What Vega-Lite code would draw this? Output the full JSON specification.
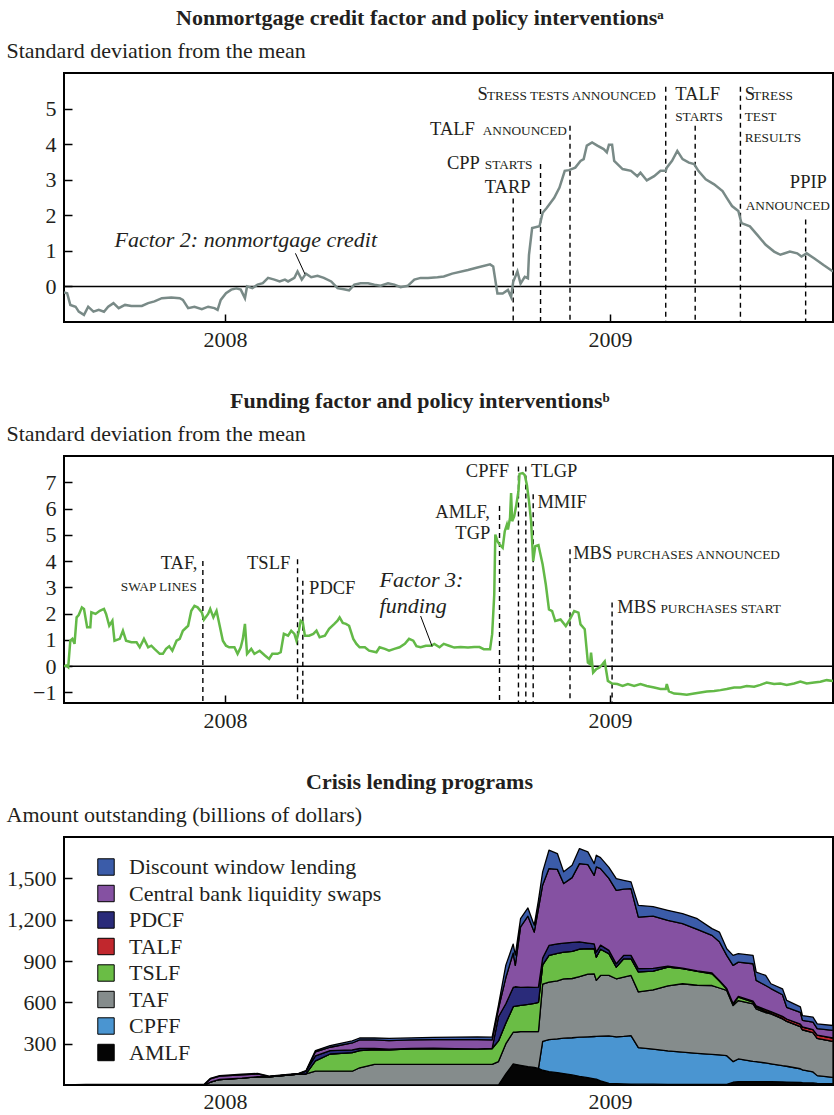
{
  "$schema": "https://vega.github.io/schema/vega-lite/v6.json",
  "background": "white",
  "padding": {"left": 5, "top": 6, "right": 0, "bottom": 0},
  "spacing": 38,
  "resolve": {"legend": {"color": "independent"}},
  "config": {
    "font": "Liberation Serif",
    "view": {"stroke": "black", "strokeWidth": 2},
    "axis": {"grid": false, "domain": false, "labelFont": "Liberation Serif", "labelFontSize": 22, "labelColor": "#231f20", "labelOverlap": false, "tickColor": "black", "tickWidth": 1.5, "tickSize": -8, "titleFont": "Liberation Serif", "titleFontSize": 22, "titleFontWeight": "normal", "titleColor": "#231f20", "zindex": 1},
    "title": {"font": "Liberation Serif", "fontSize": 22, "fontWeight": "bold", "color": "#231f20", "anchor": "middle", "frame": "bounds", "offset": 9},
    "text": {"font": "Liberation Serif", "color": "#231f20"}
  },
  "datasets": {
    "nonmortgage": [
      {"date":"2007-08-01","value":-0.17},{"date":"2007-08-04","value":-0.19},{"date":"2007-08-07","value":-0.52},{"date":"2007-08-12","value":-0.57},{"date":"2007-08-15","value":-0.71},{"date":"2007-08-20","value":-0.8},{"date":"2007-08-24","value":-0.57},{"date":"2007-08-29","value":-0.71},{"date":"2007-09-03","value":-0.66},{"date":"2007-09-08","value":-0.71},{"date":"2007-09-12","value":-0.57},{"date":"2007-09-17","value":-0.47},{"date":"2007-09-22","value":-0.61},{"date":"2007-09-28","value":-0.52},{"date":"2007-10-04","value":-0.55},{"date":"2007-10-14","value":-0.55},{"date":"2007-10-20","value":-0.47},{"date":"2007-10-26","value":-0.42},{"date":"2007-11-02","value":-0.33},{"date":"2007-11-11","value":-0.31},{"date":"2007-11-19","value":-0.33},{"date":"2007-11-22","value":-0.38},{"date":"2007-11-27","value":-0.61},{"date":"2007-12-03","value":-0.57},{"date":"2007-12-10","value":-0.64},{"date":"2007-12-16","value":-0.57},{"date":"2007-12-22","value":-0.61},{"date":"2007-12-25","value":-0.66},{"date":"2007-12-28","value":-0.38},{"date":"2008-01-02","value":-0.19},{"date":"2008-01-07","value":-0.09},{"date":"2008-01-12","value":-0.05},{"date":"2008-01-16","value":-0.09},{"date":"2008-01-20","value":-0.33},{"date":"2008-01-22","value":0},{"date":"2008-01-27","value":-0.05},{"date":"2008-02-01","value":0.05},{"date":"2008-02-06","value":0.09},{"date":"2008-02-11","value":0.24},{"date":"2008-02-17","value":0.19},{"date":"2008-02-22","value":0.14},{"date":"2008-02-27","value":0.19},{"date":"2008-03-01","value":0.14},{"date":"2008-03-07","value":0.24},{"date":"2008-03-10","value":0.42},{"date":"2008-03-14","value":0.19},{"date":"2008-03-18","value":0.36},{"date":"2008-03-23","value":0.26},{"date":"2008-03-29","value":0.3},{"date":"2008-04-04","value":0.24},{"date":"2008-04-11","value":0.14},{"date":"2008-04-17","value":-0.05},{"date":"2008-04-23","value":-0.08},{"date":"2008-04-28","value":-0.11},{"date":"2008-05-03","value":0.05},{"date":"2008-05-09","value":0.09},{"date":"2008-05-16","value":0.09},{"date":"2008-05-22","value":0.05},{"date":"2008-05-28","value":0.02},{"date":"2008-06-04","value":0.09},{"date":"2008-06-10","value":0.05},{"date":"2008-06-16","value":-0.02},{"date":"2008-06-23","value":0.02},{"date":"2008-06-29","value":0.19},{"date":"2008-07-05","value":0.24},{"date":"2008-07-12","value":0.24},{"date":"2008-07-21","value":0.26},{"date":"2008-07-27","value":0.28},{"date":"2008-08-04","value":0.36},{"date":"2008-08-19","value":0.46},{"date":"2008-08-28","value":0.53},{"date":"2008-09-09","value":0.62},{"date":"2008-09-12","value":0.56},{"date":"2008-09-16","value":-0.2},{"date":"2008-09-21","value":-0.2},{"date":"2008-09-26","value":-0.1},{"date":"2008-09-29","value":-0.3},{"date":"2008-10-01","value":0.13},{"date":"2008-10-05","value":0.42},{"date":"2008-10-08","value":0.08},{"date":"2008-10-12","value":0.27},{"date":"2008-10-15","value":0.23},{"date":"2008-10-16","value":0.89},{"date":"2008-10-19","value":1.64},{"date":"2008-10-26","value":1.69},{"date":"2008-10-29","value":2.07},{"date":"2008-11-02","value":2.21},{"date":"2008-11-09","value":2.49},{"date":"2008-11-14","value":2.78},{"date":"2008-11-19","value":3.25},{"date":"2008-11-23","value":3.27},{"date":"2008-11-29","value":3.34},{"date":"2008-12-04","value":3.53},{"date":"2008-12-07","value":3.58},{"date":"2008-12-10","value":3.96},{"date":"2008-12-15","value":4.05},{"date":"2008-12-20","value":3.96},{"date":"2008-12-26","value":3.86},{"date":"2008-12-29","value":3.77},{"date":"2008-12-31","value":3.98},{"date":"2009-01-03","value":3.98},{"date":"2009-01-05","value":3.53},{"date":"2009-01-13","value":3.3},{"date":"2009-01-21","value":3.25},{"date":"2009-01-27","value":3.1},{"date":"2009-01-30","value":3.2},{"date":"2009-02-05","value":2.98},{"date":"2009-02-12","value":3.1},{"date":"2009-02-18","value":3.25},{"date":"2009-02-23","value":3.25},{"date":"2009-02-24","value":3.34},{"date":"2009-03-01","value":3.53},{"date":"2009-03-06","value":3.81},{"date":"2009-03-11","value":3.58},{"date":"2009-03-17","value":3.48},{"date":"2009-03-22","value":3.44},{"date":"2009-03-26","value":3.25},{"date":"2009-04-02","value":3.01},{"date":"2009-04-10","value":2.87},{"date":"2009-04-18","value":2.68},{"date":"2009-04-22","value":2.49},{"date":"2009-04-27","value":2.26},{"date":"2009-05-03","value":2.12},{"date":"2009-05-06","value":1.78},{"date":"2009-05-14","value":1.69},{"date":"2009-05-21","value":1.45},{"date":"2009-05-29","value":1.17},{"date":"2009-06-06","value":0.98},{"date":"2009-06-12","value":0.89},{"date":"2009-06-21","value":0.98},{"date":"2009-06-28","value":0.93},{"date":"2009-07-02","value":0.84},{"date":"2009-07-07","value":0.93},{"date":"2009-07-14","value":0.79},{"date":"2009-07-23","value":0.6},{"date":"2009-08-01","value":0.42}
    ],
    "funding": [
      {"date":"2007-08-01","value":0},{"date":"2007-08-03","value":0.03},{"date":"2007-08-05","value":-0.04},{"date":"2007-08-07","value":0.97},{"date":"2007-08-09","value":1.04},{"date":"2007-08-11","value":0.85},{"date":"2007-08-13","value":1.86},{"date":"2007-08-15","value":1.95},{"date":"2007-08-18","value":2.24},{"date":"2007-08-20","value":2.18},{"date":"2007-08-23","value":1.48},{"date":"2007-08-26","value":1.48},{"date":"2007-08-27","value":2.05},{"date":"2007-08-31","value":1.99},{"date":"2007-09-04","value":2.11},{"date":"2007-09-08","value":2.18},{"date":"2007-09-10","value":1.99},{"date":"2007-09-13","value":1.54},{"date":"2007-09-16","value":1.73},{"date":"2007-09-18","value":0.97},{"date":"2007-09-23","value":1.04},{"date":"2007-09-26","value":1.35},{"date":"2007-09-29","value":0.97},{"date":"2007-10-04","value":0.91},{"date":"2007-10-09","value":0.91},{"date":"2007-10-12","value":0.72},{"date":"2007-10-16","value":1.04},{"date":"2007-10-20","value":0.72},{"date":"2007-10-23","value":0.78},{"date":"2007-10-26","value":0.66},{"date":"2007-10-31","value":0.47},{"date":"2007-11-03","value":0.47},{"date":"2007-11-06","value":0.66},{"date":"2007-11-09","value":0.76},{"date":"2007-11-12","value":0.59},{"date":"2007-11-16","value":0.97},{"date":"2007-11-19","value":1.04},{"date":"2007-11-22","value":1.35},{"date":"2007-11-27","value":1.54},{"date":"2007-11-30","value":2.11},{"date":"2007-12-03","value":2.3},{"date":"2007-12-06","value":2.24},{"date":"2007-12-10","value":2.05},{"date":"2007-12-12","value":1.77},{"date":"2007-12-16","value":1.99},{"date":"2007-12-18","value":2.18},{"date":"2007-12-21","value":1.86},{"date":"2007-12-24","value":2.11},{"date":"2007-12-27","value":1.54},{"date":"2007-12-30","value":0.97},{"date":"2008-01-02","value":0.78},{"date":"2008-01-05","value":0.72},{"date":"2008-01-10","value":0.72},{"date":"2008-01-13","value":0.47},{"date":"2008-01-16","value":0.72},{"date":"2008-01-18","value":1.04},{"date":"2008-01-20","value":1.61},{"date":"2008-01-22","value":0.47},{"date":"2008-01-26","value":0.66},{"date":"2008-01-29","value":0.47},{"date":"2008-02-03","value":0.59},{"date":"2008-02-08","value":0.41},{"date":"2008-02-12","value":0.28},{"date":"2008-02-15","value":0.47},{"date":"2008-02-20","value":0.47},{"date":"2008-02-23","value":0.53},{"date":"2008-02-26","value":1.23},{"date":"2008-03-01","value":1.16},{"date":"2008-03-04","value":1.35},{"date":"2008-03-07","value":1.23},{"date":"2008-03-09","value":0.97},{"date":"2008-03-11","value":1.29},{"date":"2008-03-13","value":1.73},{"date":"2008-03-15","value":1.67},{"date":"2008-03-17","value":1.16},{"date":"2008-03-21","value":1.16},{"date":"2008-03-25","value":1.23},{"date":"2008-03-28","value":1.35},{"date":"2008-03-31","value":1.1},{"date":"2008-04-05","value":1.16},{"date":"2008-04-09","value":1.42},{"date":"2008-04-14","value":1.61},{"date":"2008-04-17","value":1.73},{"date":"2008-04-19","value":1.86},{"date":"2008-04-22","value":1.65},{"date":"2008-04-25","value":1.61},{"date":"2008-04-28","value":1.54},{"date":"2008-05-02","value":1.04},{"date":"2008-05-05","value":0.85},{"date":"2008-05-08","value":0.72},{"date":"2008-05-13","value":0.72},{"date":"2008-05-17","value":0.59},{"date":"2008-05-24","value":0.53},{"date":"2008-05-27","value":0.72},{"date":"2008-06-01","value":0.66},{"date":"2008-06-05","value":0.59},{"date":"2008-06-10","value":0.66},{"date":"2008-06-15","value":0.72},{"date":"2008-06-20","value":0.85},{"date":"2008-06-24","value":1.04},{"date":"2008-06-28","value":0.97},{"date":"2008-07-01","value":0.76},{"date":"2008-07-05","value":0.72},{"date":"2008-07-10","value":0.78},{"date":"2008-07-15","value":0.78},{"date":"2008-07-18","value":0.85},{"date":"2008-07-23","value":0.72},{"date":"2008-07-27","value":0.85},{"date":"2008-08-01","value":0.78},{"date":"2008-08-06","value":0.71},{"date":"2008-08-12","value":0.73},{"date":"2008-08-19","value":0.71},{"date":"2008-08-25","value":0.73},{"date":"2008-08-30","value":0.73},{"date":"2008-09-03","value":0.65},{"date":"2008-09-09","value":0.65},{"date":"2008-09-11","value":1.22},{"date":"2008-09-13","value":2.73},{"date":"2008-09-14","value":5.01},{"date":"2008-09-16","value":4.76},{"date":"2008-09-18","value":4.63},{"date":"2008-09-21","value":4.51},{"date":"2008-09-23","value":5.14},{"date":"2008-09-25","value":5.39},{"date":"2008-09-26","value":5.2},{"date":"2008-09-28","value":5.65},{"date":"2008-09-29","value":6.59},{"date":"2008-09-30","value":5.52},{"date":"2008-10-02","value":5.71},{"date":"2008-10-04","value":6.15},{"date":"2008-10-06","value":6.66},{"date":"2008-10-07","value":7.32},{"date":"2008-10-10","value":7.35},{"date":"2008-10-12","value":7.27},{"date":"2008-10-14","value":6.91},{"date":"2008-10-16","value":6.28},{"date":"2008-10-18","value":5.52},{"date":"2008-10-20","value":4.0},{"date":"2008-10-22","value":4.57},{"date":"2008-10-25","value":4.61},{"date":"2008-10-29","value":3.87},{"date":"2008-11-01","value":3.11},{"date":"2008-11-04","value":2.16},{"date":"2008-11-07","value":2.1},{"date":"2008-11-10","value":1.72},{"date":"2008-11-15","value":1.78},{"date":"2008-11-20","value":1.53},{"date":"2008-11-23","value":1.72},{"date":"2008-11-28","value":2.1},{"date":"2008-12-02","value":2.04},{"date":"2008-12-04","value":1.59},{"date":"2008-12-08","value":1.41},{"date":"2008-12-11","value":0.14},{"date":"2008-12-13","value":0.08},{"date":"2008-12-14","value":0.52},{"date":"2008-12-16","value":-0.24},{"date":"2008-12-19","value":-0.11},{"date":"2008-12-22","value":-0.05},{"date":"2008-12-25","value":0.08},{"date":"2008-12-27","value":0.18},{"date":"2008-12-30","value":-0.56},{"date":"2009-01-03","value":-0.66},{"date":"2009-01-08","value":-0.68},{"date":"2009-01-13","value":-0.75},{"date":"2009-01-18","value":-0.68},{"date":"2009-01-24","value":-0.75},{"date":"2009-01-30","value":-0.68},{"date":"2009-02-05","value":-0.75},{"date":"2009-02-12","value":-0.81},{"date":"2009-02-18","value":-0.87},{"date":"2009-02-23","value":-0.87},{"date":"2009-02-24","value":-0.68},{"date":"2009-02-26","value":-0.96},{"date":"2009-03-03","value":-1.04},{"date":"2009-03-09","value":-1.06},{"date":"2009-03-15","value":-1.09},{"date":"2009-03-22","value":-1.04},{"date":"2009-03-28","value":-1.0},{"date":"2009-04-03","value":-0.96},{"date":"2009-04-10","value":-0.94},{"date":"2009-04-16","value":-0.91},{"date":"2009-04-22","value":-0.87},{"date":"2009-04-29","value":-0.81},{"date":"2009-05-05","value":-0.81},{"date":"2009-05-11","value":-0.75},{"date":"2009-05-18","value":-0.78},{"date":"2009-05-24","value":-0.71},{"date":"2009-05-30","value":-0.62},{"date":"2009-06-06","value":-0.68},{"date":"2009-06-12","value":-0.66},{"date":"2009-06-18","value":-0.71},{"date":"2009-06-25","value":-0.66},{"date":"2009-07-01","value":-0.58},{"date":"2009-07-07","value":-0.66},{"date":"2009-07-14","value":-0.62},{"date":"2009-07-20","value":-0.59},{"date":"2009-07-26","value":-0.53},{"date":"2009-08-01","value":-0.56}
    ],
    "p1_events": [
      {"date":"2008-10-01","top":2.47,"event":"TARP"},{"date":"2008-10-27","top":3.44,"event":"CPP starts"},{"date":"2008-11-24","top":4.52,"event":"TALF announced"},{"date":"2009-02-23","top":5.61,"event":"Stress tests announced"},{"date":"2009-03-23","top":4.52,"event":"TALF starts"},{"date":"2009-05-05","top":5.61,"event":"Stress test results"},{"date":"2009-07-06","top":1.88,"event":"PPIP announced"}
    ],
    "p1_big": [
      {"date":"2008-08-28","value":5.25,"text":"S"},{"date":"2009-03-04","value":5.25,"text":"TALF"},{"date":"2009-05-09","value":5.25,"text":"S"},{"date":"2008-07-14","value":4.26,"text":"TALF"},{"date":"2008-07-30","value":3.29,"text":"CPP"},{"date":"2008-09-04","value":2.63,"text":"TARP"},{"date":"2009-06-21","value":2.78,"text":"PPIP"}
    ],
    "p1_small": [
      {"date":"2008-09-06","value":5.25,"text":"TRESS TESTS ANNOUNCED"},{"date":"2009-03-04","value":4.65,"text":"STARTS"},{"date":"2009-05-17","value":5.25,"text":"TRESS"},{"date":"2009-05-09","value":4.66,"text":"TEST"},{"date":"2009-05-09","value":4.07,"text":"RESULTS"},{"date":"2008-09-02","value":4.26,"text":"ANNOUNCED"},{"date":"2008-09-04","value":3.29,"text":"STARTS"},{"date":"2009-05-10","value":2.16,"text":"ANNOUNCED"}
    ],
    "p1_italic": [{"date":"2007-09-18","value":1.12,"text":"Factor 2: nonmortgage credit"}],
    "p1_leader": [{"date":"2008-03-08","value":0.93,"date2":"2008-03-17","value2":0.35}],
    "p2_events": [
      {"date":"2007-12-11","top":4.0,"event":"TAF, swap lines"},{"date":"2008-03-10","top":4.07,"event":"TSLF"},{"date":"2008-03-15","top":3.25,"event":"PDCF"},{"date":"2008-09-18","top":6.1,"event":"AMLF, TGP"},{"date":"2008-10-06","top":7.6,"event":"CPFF"},{"date":"2008-10-13","top":7.6,"event":"TLGP"},{"date":"2008-10-20","top":6.54,"event":"MMIF"},{"date":"2008-11-24","top":4.45,"event":"MBS purchases announced"},{"date":"2009-01-03","top":2.42,"event":"MBS purchases start"}
    ],
    "p2_big": [
      {"date":"2007-11-01","value":3.71,"text":"TAF,"},{"date":"2008-01-22","value":3.71,"text":"TSLF"},{"date":"2008-03-21","value":2.74,"text":"PDCF"},{"date":"2008-07-19","value":5.65,"text":"AMLF,"},{"date":"2008-08-07","value":4.86,"text":"TGP"},{"date":"2008-08-17","value":7.2,"text":"CPFF"},{"date":"2008-10-18","value":7.2,"text":"TLGP"},{"date":"2008-10-24","value":6.03,"text":"MMIF"},{"date":"2008-11-27","value":4.07,"text":"MBS"},{"date":"2009-01-08","value":2.04,"text":"MBS"}
    ],
    "p2_small": [
      {"date":"2007-09-24","value":2.86,"text":"SWAP LINES"},{"date":"2009-01-07","value":4.07,"text":"PURCHASES ANNOUNCED"},{"date":"2009-02-18","value":2.04,"text":"PURCHASES START"}
    ],
    "p2_italic": [{"date":"2008-05-27","value":3.03,"text":"Factor 3:"},{"date":"2008-05-27","value":2.04,"text":"funding"}],
    "p2_leader": [{"date":"2008-07-05","value":1.91,"date2":"2008-07-16","value2":0.75}],
    "programs": [
      {"program":"AMLF","rank":1},{"program":"CPFF","rank":2},{"program":"TAF","rank":3},{"program":"TSLF","rank":4},{"program":"TALF","rank":5},{"program":"PDCF","rank":6},{"program":"Central bank liquidity swaps","rank":7},{"program":"Discount window lending","rank":8}
    ],
    "lending": [
      {"date":"2007-08-01","program":"AMLF","amount":0},{"date":"2007-08-01","program":"CPFF","amount":0},{"date":"2007-08-01","program":"TAF","amount":0},{"date":"2007-08-01","program":"TSLF","amount":0},{"date":"2007-08-01","program":"TALF","amount":0},{"date":"2007-08-01","program":"PDCF","amount":0},{"date":"2007-08-01","program":"Central bank liquidity swaps","amount":0},{"date":"2007-08-01","program":"Discount window lending","amount":1},
      {"date":"2007-08-22","program":"AMLF","amount":0},{"date":"2007-08-22","program":"CPFF","amount":0},{"date":"2007-08-22","program":"TAF","amount":0},{"date":"2007-08-22","program":"TSLF","amount":0},{"date":"2007-08-22","program":"TALF","amount":0},{"date":"2007-08-22","program":"PDCF","amount":0},{"date":"2007-08-22","program":"Central bank liquidity swaps","amount":0},{"date":"2007-08-22","program":"Discount window lending","amount":4},
      {"date":"2007-12-12","program":"AMLF","amount":0},{"date":"2007-12-12","program":"CPFF","amount":0},{"date":"2007-12-12","program":"TAF","amount":0},{"date":"2007-12-12","program":"TSLF","amount":0},{"date":"2007-12-12","program":"TALF","amount":0},{"date":"2007-12-12","program":"PDCF","amount":0},{"date":"2007-12-12","program":"Central bank liquidity swaps","amount":0},{"date":"2007-12-12","program":"Discount window lending","amount":4},
      {"date":"2007-12-18","program":"AMLF","amount":0},{"date":"2007-12-18","program":"CPFF","amount":0},{"date":"2007-12-18","program":"TAF","amount":20},{"date":"2007-12-18","program":"TSLF","amount":0},{"date":"2007-12-18","program":"TALF","amount":0},{"date":"2007-12-18","program":"PDCF","amount":0},{"date":"2007-12-18","program":"Central bank liquidity swaps","amount":24},{"date":"2007-12-18","program":"Discount window lending","amount":4},
      {"date":"2007-12-27","program":"AMLF","amount":0},{"date":"2007-12-27","program":"CPFF","amount":0},{"date":"2007-12-27","program":"TAF","amount":40},{"date":"2007-12-27","program":"TSLF","amount":0},{"date":"2007-12-27","program":"TALF","amount":0},{"date":"2007-12-27","program":"PDCF","amount":0},{"date":"2007-12-27","program":"Central bank liquidity swaps","amount":24},{"date":"2007-12-27","program":"Discount window lending","amount":4},
      {"date":"2008-01-17","program":"AMLF","amount":0},{"date":"2008-01-17","program":"CPFF","amount":0},{"date":"2008-01-17","program":"TAF","amount":50},{"date":"2008-01-17","program":"TSLF","amount":0},{"date":"2008-01-17","program":"TALF","amount":0},{"date":"2008-01-17","program":"PDCF","amount":0},{"date":"2008-01-17","program":"Central bank liquidity swaps","amount":24},{"date":"2008-01-17","program":"Discount window lending","amount":4},
      {"date":"2008-02-01","program":"AMLF","amount":0},{"date":"2008-02-01","program":"CPFF","amount":0},{"date":"2008-02-01","program":"TAF","amount":60},{"date":"2008-02-01","program":"TSLF","amount":0},{"date":"2008-02-01","program":"TALF","amount":0},{"date":"2008-02-01","program":"PDCF","amount":0},{"date":"2008-02-01","program":"Central bank liquidity swaps","amount":20},{"date":"2008-02-01","program":"Discount window lending","amount":4},
      {"date":"2008-02-12","program":"AMLF","amount":0},{"date":"2008-02-12","program":"CPFF","amount":0},{"date":"2008-02-12","program":"TAF","amount":60},{"date":"2008-02-12","program":"TSLF","amount":0},{"date":"2008-02-12","program":"TALF","amount":0},{"date":"2008-02-12","program":"PDCF","amount":0},{"date":"2008-02-12","program":"Central bank liquidity swaps","amount":0},{"date":"2008-02-12","program":"Discount window lending","amount":4},
      {"date":"2008-03-11","program":"AMLF","amount":0},{"date":"2008-03-11","program":"CPFF","amount":0},{"date":"2008-03-11","program":"TAF","amount":80},{"date":"2008-03-11","program":"TSLF","amount":0},{"date":"2008-03-11","program":"TALF","amount":0},{"date":"2008-03-11","program":"PDCF","amount":0},{"date":"2008-03-11","program":"Central bank liquidity swaps","amount":0},{"date":"2008-03-11","program":"Discount window lending","amount":4},
      {"date":"2008-03-18","program":"AMLF","amount":0},{"date":"2008-03-18","program":"CPFF","amount":0},{"date":"2008-03-18","program":"TAF","amount":80},{"date":"2008-03-18","program":"TSLF","amount":0},{"date":"2008-03-18","program":"TALF","amount":0},{"date":"2008-03-18","program":"PDCF","amount":20},{"date":"2008-03-18","program":"Central bank liquidity swaps","amount":0},{"date":"2008-03-18","program":"Discount window lending","amount":4},
      {"date":"2008-03-27","program":"AMLF","amount":0},{"date":"2008-03-27","program":"CPFF","amount":0},{"date":"2008-03-27","program":"TAF","amount":100},{"date":"2008-03-27","program":"TSLF","amount":75},{"date":"2008-03-27","program":"TALF","amount":0},{"date":"2008-03-27","program":"PDCF","amount":37},{"date":"2008-03-27","program":"Central bank liquidity swaps","amount":29},{"date":"2008-03-27","program":"Discount window lending","amount":9},
      {"date":"2008-04-10","program":"AMLF","amount":0},{"date":"2008-04-10","program":"CPFF","amount":0},{"date":"2008-04-10","program":"TAF","amount":100},{"date":"2008-04-10","program":"TSLF","amount":125},{"date":"2008-04-10","program":"TALF","amount":0},{"date":"2008-04-10","program":"PDCF","amount":25},{"date":"2008-04-10","program":"Central bank liquidity swaps","amount":24},{"date":"2008-04-10","program":"Discount window lending","amount":12},
      {"date":"2008-05-01","program":"AMLF","amount":0},{"date":"2008-05-01","program":"CPFF","amount":0},{"date":"2008-05-01","program":"TAF","amount":100},{"date":"2008-05-01","program":"TSLF","amount":135},{"date":"2008-05-01","program":"TALF","amount":0},{"date":"2008-05-01","program":"PDCF","amount":20},{"date":"2008-05-01","program":"Central bank liquidity swaps","amount":50},{"date":"2008-05-01","program":"Discount window lending","amount":15},
      {"date":"2008-05-08","program":"AMLF","amount":0},{"date":"2008-05-08","program":"CPFF","amount":0},{"date":"2008-05-08","program":"TAF","amount":125},{"date":"2008-05-08","program":"TSLF","amount":125},{"date":"2008-05-08","program":"TALF","amount":0},{"date":"2008-05-08","program":"PDCF","amount":15},{"date":"2008-05-08","program":"Central bank liquidity swaps","amount":62},{"date":"2008-05-08","program":"Discount window lending","amount":14},
      {"date":"2008-05-22","program":"AMLF","amount":0},{"date":"2008-05-22","program":"CPFF","amount":0},{"date":"2008-05-22","program":"TAF","amount":150},{"date":"2008-05-22","program":"TSLF","amount":107},{"date":"2008-05-22","program":"TALF","amount":0},{"date":"2008-05-22","program":"PDCF","amount":8},{"date":"2008-05-22","program":"Central bank liquidity swaps","amount":62},{"date":"2008-05-22","program":"Discount window lending","amount":14},
      {"date":"2008-06-05","program":"AMLF","amount":0},{"date":"2008-06-05","program":"CPFF","amount":0},{"date":"2008-06-05","program":"TAF","amount":150},{"date":"2008-06-05","program":"TSLF","amount":105},{"date":"2008-06-05","program":"TALF","amount":0},{"date":"2008-06-05","program":"PDCF","amount":5},{"date":"2008-06-05","program":"Central bank liquidity swaps","amount":62},{"date":"2008-06-05","program":"Discount window lending","amount":16},
      {"date":"2008-06-26","program":"AMLF","amount":0},{"date":"2008-06-26","program":"CPFF","amount":0},{"date":"2008-06-26","program":"TAF","amount":150},{"date":"2008-06-26","program":"TSLF","amount":112},{"date":"2008-06-26","program":"TALF","amount":0},{"date":"2008-06-26","program":"PDCF","amount":3},{"date":"2008-06-26","program":"Central bank liquidity swaps","amount":62},{"date":"2008-06-26","program":"Discount window lending","amount":15},
      {"date":"2008-07-17","program":"AMLF","amount":0},{"date":"2008-07-17","program":"CPFF","amount":0},{"date":"2008-07-17","program":"TAF","amount":150},{"date":"2008-07-17","program":"TSLF","amount":115},{"date":"2008-07-17","program":"TALF","amount":0},{"date":"2008-07-17","program":"PDCF","amount":2},{"date":"2008-07-17","program":"Central bank liquidity swaps","amount":62},{"date":"2008-07-17","program":"Discount window lending","amount":17},
      {"date":"2008-08-07","program":"AMLF","amount":0},{"date":"2008-08-07","program":"CPFF","amount":0},{"date":"2008-08-07","program":"TAF","amount":150},{"date":"2008-08-07","program":"TSLF","amount":112},{"date":"2008-08-07","program":"TALF","amount":0},{"date":"2008-08-07","program":"PDCF","amount":1},{"date":"2008-08-07","program":"Central bank liquidity swaps","amount":67},{"date":"2008-08-07","program":"Discount window lending","amount":18},
      {"date":"2008-08-28","program":"AMLF","amount":0},{"date":"2008-08-28","program":"CPFF","amount":0},{"date":"2008-08-28","program":"TAF","amount":150},{"date":"2008-08-28","program":"TSLF","amount":112},{"date":"2008-08-28","program":"TALF","amount":0},{"date":"2008-08-28","program":"PDCF","amount":0},{"date":"2008-08-28","program":"Central bank liquidity swaps","amount":67},{"date":"2008-08-28","program":"Discount window lending","amount":20},
      {"date":"2008-09-11","program":"AMLF","amount":0},{"date":"2008-09-11","program":"CPFF","amount":0},{"date":"2008-09-11","program":"TAF","amount":150},{"date":"2008-09-11","program":"TSLF","amount":115},{"date":"2008-09-11","program":"TALF","amount":0},{"date":"2008-09-11","program":"PDCF","amount":0},{"date":"2008-09-11","program":"Central bank liquidity swaps","amount":62},{"date":"2008-09-11","program":"Discount window lending","amount":20},
      {"date":"2008-09-17","program":"AMLF","amount":0},{"date":"2008-09-17","program":"CPFF","amount":0},{"date":"2008-09-17","program":"TAF","amount":170},{"date":"2008-09-17","program":"TSLF","amount":150},{"date":"2008-09-17","program":"TALF","amount":0},{"date":"2008-09-17","program":"PDCF","amount":175},{"date":"2008-09-17","program":"Central bank liquidity swaps","amount":60},{"date":"2008-09-17","program":"Discount window lending","amount":25},
      {"date":"2008-09-24","program":"AMLF","amount":80},{"date":"2008-09-24","program":"CPFF","amount":0},{"date":"2008-09-24","program":"TAF","amount":220},{"date":"2008-09-24","program":"TSLF","amount":150},{"date":"2008-09-24","program":"TALF","amount":0},{"date":"2008-09-24","program":"PDCF","amount":140},{"date":"2008-09-24","program":"Central bank liquidity swaps","amount":190},{"date":"2008-09-24","program":"Discount window lending","amount":90},
      {"date":"2008-10-01","program":"AMLF","amount":153},{"date":"2008-10-01","program":"CPFF","amount":0},{"date":"2008-10-01","program":"TAF","amount":230},{"date":"2008-10-01","program":"TSLF","amount":185},{"date":"2008-10-01","program":"TALF","amount":0},{"date":"2008-10-01","program":"PDCF","amount":140},{"date":"2008-10-01","program":"Central bank liquidity swaps","amount":250},{"date":"2008-10-01","program":"Discount window lending","amount":65},
      {"date":"2008-10-03","program":"AMLF","amount":150},{"date":"2008-10-03","program":"CPFF","amount":0},{"date":"2008-10-03","program":"TAF","amount":233},{"date":"2008-10-03","program":"TSLF","amount":190},{"date":"2008-10-03","program":"TALF","amount":0},{"date":"2008-10-03","program":"PDCF","amount":140},{"date":"2008-10-03","program":"Central bank liquidity swaps","amount":155},{"date":"2008-10-03","program":"Discount window lending","amount":75},
      {"date":"2008-10-08","program":"AMLF","amount":143},{"date":"2008-10-08","program":"CPFF","amount":0},{"date":"2008-10-08","program":"TAF","amount":245},{"date":"2008-10-08","program":"TSLF","amount":190},{"date":"2008-10-08","program":"TALF","amount":0},{"date":"2008-10-08","program":"PDCF","amount":130},{"date":"2008-10-08","program":"Central bank liquidity swaps","amount":440},{"date":"2008-10-08","program":"Discount window lending","amount":60},
      {"date":"2008-10-15","program":"AMLF","amount":133},{"date":"2008-10-15","program":"CPFF","amount":0},{"date":"2008-10-15","program":"TAF","amount":255},{"date":"2008-10-15","program":"TSLF","amount":197},{"date":"2008-10-15","program":"TALF","amount":0},{"date":"2008-10-15","program":"PDCF","amount":125},{"date":"2008-10-15","program":"Central bank liquidity swaps","amount":515},{"date":"2008-10-15","program":"Discount window lending","amount":60},
      {"date":"2008-10-21","program":"AMLF","amount":127},{"date":"2008-10-21","program":"CPFF","amount":0},{"date":"2008-10-21","program":"TAF","amount":261},{"date":"2008-10-21","program":"TSLF","amount":205},{"date":"2008-10-21","program":"TALF","amount":0},{"date":"2008-10-21","program":"PDCF","amount":115},{"date":"2008-10-21","program":"Central bank liquidity swaps","amount":402},{"date":"2008-10-21","program":"Discount window lending","amount":50},
      {"date":"2008-10-25","program":"AMLF","amount":120},{"date":"2008-10-25","program":"CPFF","amount":0},{"date":"2008-10-25","program":"TAF","amount":268},{"date":"2008-10-25","program":"TSLF","amount":212},{"date":"2008-10-25","program":"TALF","amount":0},{"date":"2008-10-25","program":"PDCF","amount":110},{"date":"2008-10-25","program":"Central bank liquidity swaps","amount":570},{"date":"2008-10-25","program":"Discount window lending","amount":60},
      {"date":"2008-10-29","program":"AMLF","amount":107},{"date":"2008-10-29","program":"CPFF","amount":210},{"date":"2008-10-29","program":"TAF","amount":415},{"date":"2008-10-29","program":"TSLF","amount":140},{"date":"2008-10-29","program":"TALF","amount":0},{"date":"2008-10-29","program":"PDCF","amount":50},{"date":"2008-10-29","program":"Central bank liquidity swaps","amount":530},{"date":"2008-10-29","program":"Discount window lending","amount":95},
      {"date":"2008-11-04","program":"AMLF","amount":97},{"date":"2008-11-04","program":"CPFF","amount":233},{"date":"2008-11-04","program":"TAF","amount":417},{"date":"2008-11-04","program":"TSLF","amount":194},{"date":"2008-11-04","program":"TALF","amount":0},{"date":"2008-11-04","program":"PDCF","amount":72},{"date":"2008-11-04","program":"Central bank liquidity swaps","amount":558},{"date":"2008-11-04","program":"Discount window lending","amount":133},
      {"date":"2008-11-12","program":"AMLF","amount":90},{"date":"2008-11-12","program":"CPFF","amount":245},{"date":"2008-11-12","program":"TAF","amount":420},{"date":"2008-11-12","program":"TSLF","amount":200},{"date":"2008-11-12","program":"TALF","amount":0},{"date":"2008-11-12","program":"PDCF","amount":70},{"date":"2008-11-12","program":"Central bank liquidity swaps","amount":540},{"date":"2008-11-12","program":"Discount window lending","amount":115},
      {"date":"2008-11-18","program":"AMLF","amount":83},{"date":"2008-11-18","program":"CPFF","amount":257},{"date":"2008-11-18","program":"TAF","amount":430},{"date":"2008-11-18","program":"TSLF","amount":195},{"date":"2008-11-18","program":"TALF","amount":0},{"date":"2008-11-18","program":"PDCF","amount":65},{"date":"2008-11-18","program":"Central bank liquidity swaps","amount":432},{"date":"2008-11-18","program":"Discount window lending","amount":85},
      {"date":"2008-11-26","program":"AMLF","amount":73},{"date":"2008-11-26","program":"CPFF","amount":270},{"date":"2008-11-26","program":"TAF","amount":430},{"date":"2008-11-26","program":"TSLF","amount":197},{"date":"2008-11-26","program":"TALF","amount":0},{"date":"2008-11-26","program":"PDCF","amount":65},{"date":"2008-11-26","program":"Central bank liquidity swaps","amount":470},{"date":"2008-11-26","program":"Discount window lending","amount":90},
      {"date":"2008-12-03","program":"AMLF","amount":63},{"date":"2008-12-03","program":"CPFF","amount":284},{"date":"2008-12-03","program":"TAF","amount":440},{"date":"2008-12-03","program":"TSLF","amount":200},{"date":"2008-12-03","program":"TALF","amount":0},{"date":"2008-12-03","program":"PDCF","amount":52},{"date":"2008-12-03","program":"Central bank liquidity swaps","amount":568},{"date":"2008-12-03","program":"Discount window lending","amount":109},
      {"date":"2008-12-11","program":"AMLF","amount":53},{"date":"2008-12-11","program":"CPFF","amount":297},{"date":"2008-12-11","program":"TAF","amount":455},{"date":"2008-12-11","program":"TSLF","amount":185},{"date":"2008-12-11","program":"TALF","amount":0},{"date":"2008-12-11","program":"PDCF","amount":40},{"date":"2008-12-11","program":"Central bank liquidity swaps","amount":570},{"date":"2008-12-11","program":"Discount window lending","amount":92},
      {"date":"2008-12-17","program":"AMLF","amount":45},{"date":"2008-12-17","program":"CPFF","amount":307},{"date":"2008-12-17","program":"TAF","amount":455},{"date":"2008-12-17","program":"TSLF","amount":182},{"date":"2008-12-17","program":"TALF","amount":0},{"date":"2008-12-17","program":"PDCF","amount":35},{"date":"2008-12-17","program":"Central bank liquidity swaps","amount":498},{"date":"2008-12-17","program":"Discount window lending","amount":85},
      {"date":"2008-12-19","program":"AMLF","amount":42},{"date":"2008-12-19","program":"CPFF","amount":311},{"date":"2008-12-19","program":"TAF","amount":406},{"date":"2008-12-19","program":"TSLF","amount":169},{"date":"2008-12-19","program":"TALF","amount":0},{"date":"2008-12-19","program":"PDCF","amount":37},{"date":"2008-12-19","program":"Central bank liquidity swaps","amount":618},{"date":"2008-12-19","program":"Discount window lending","amount":85},
      {"date":"2008-12-23","program":"AMLF","amount":30},{"date":"2008-12-23","program":"CPFF","amount":325},{"date":"2008-12-23","program":"TAF","amount":440},{"date":"2008-12-23","program":"TSLF","amount":190},{"date":"2008-12-23","program":"TALF","amount":0},{"date":"2008-12-23","program":"PDCF","amount":30},{"date":"2008-12-23","program":"Central bank liquidity swaps","amount":555},{"date":"2008-12-23","program":"Discount window lending","amount":80},
      {"date":"2008-12-31","program":"AMLF","amount":12},{"date":"2008-12-31","program":"CPFF","amount":345},{"date":"2008-12-31","program":"TAF","amount":438},{"date":"2008-12-31","program":"TSLF","amount":158},{"date":"2008-12-31","program":"TALF","amount":0},{"date":"2008-12-31","program":"PDCF","amount":24},{"date":"2008-12-31","program":"Central bank liquidity swaps","amount":523},{"date":"2008-12-31","program":"Discount window lending","amount":80},
      {"date":"2009-01-07","program":"AMLF","amount":10},{"date":"2009-01-07","program":"CPFF","amount":340},{"date":"2009-01-07","program":"TAF","amount":421},{"date":"2009-01-07","program":"TSLF","amount":85},{"date":"2009-01-07","program":"TALF","amount":0},{"date":"2009-01-07","program":"PDCF","amount":24},{"date":"2009-01-07","program":"Central bank liquidity swaps","amount":533},{"date":"2009-01-07","program":"Discount window lending","amount":85},
      {"date":"2009-01-14","program":"AMLF","amount":8},{"date":"2009-01-14","program":"CPFF","amount":345},{"date":"2009-01-14","program":"TAF","amount":430},{"date":"2009-01-14","program":"TSLF","amount":133},{"date":"2009-01-14","program":"TALF","amount":0},{"date":"2009-01-14","program":"PDCF","amount":25},{"date":"2009-01-14","program":"Central bank liquidity swaps","amount":480},{"date":"2009-01-14","program":"Discount window lending","amount":65},
      {"date":"2009-01-21","program":"AMLF","amount":7},{"date":"2009-01-21","program":"CPFF","amount":352},{"date":"2009-01-21","program":"TAF","amount":436},{"date":"2009-01-21","program":"TSLF","amount":121},{"date":"2009-01-21","program":"TALF","amount":0},{"date":"2009-01-21","program":"PDCF","amount":25},{"date":"2009-01-21","program":"Central bank liquidity swaps","amount":484},{"date":"2009-01-21","program":"Discount window lending","amount":49},
      {"date":"2009-01-28","program":"AMLF","amount":6},{"date":"2009-01-28","program":"CPFF","amount":265},{"date":"2009-01-28","program":"TAF","amount":405},{"date":"2009-01-28","program":"TSLF","amount":145},{"date":"2009-01-28","program":"TALF","amount":0},{"date":"2009-01-28","program":"PDCF","amount":23},{"date":"2009-01-28","program":"Central bank liquidity swaps","amount":375},{"date":"2009-01-28","program":"Discount window lending","amount":85},
      {"date":"2009-02-11","program":"AMLF","amount":6},{"date":"2009-02-11","program":"CPFF","amount":255},{"date":"2009-02-11","program":"TAF","amount":430},{"date":"2009-02-11","program":"TSLF","amount":135},{"date":"2009-02-11","program":"TALF","amount":0},{"date":"2009-02-11","program":"PDCF","amount":20},{"date":"2009-02-11","program":"Central bank liquidity swaps","amount":380},{"date":"2009-02-11","program":"Discount window lending","amount":68},
      {"date":"2009-02-25","program":"AMLF","amount":5},{"date":"2009-02-25","program":"CPFF","amount":243},{"date":"2009-02-25","program":"TAF","amount":472},{"date":"2009-02-25","program":"TSLF","amount":135},{"date":"2009-02-25","program":"TALF","amount":0},{"date":"2009-02-25","program":"PDCF","amount":8},{"date":"2009-02-25","program":"Central bank liquidity swaps","amount":332},{"date":"2009-02-25","program":"Discount window lending","amount":73},
      {"date":"2009-03-11","program":"AMLF","amount":5},{"date":"2009-03-11","program":"CPFF","amount":233},{"date":"2009-03-11","program":"TAF","amount":497},{"date":"2009-03-11","program":"TSLF","amount":109},{"date":"2009-03-11","program":"TALF","amount":0},{"date":"2009-03-11","program":"PDCF","amount":4},{"date":"2009-03-11","program":"Central bank liquidity swaps","amount":323},{"date":"2009-03-11","program":"Discount window lending","amount":73},
      {"date":"2009-03-25","program":"AMLF","amount":5},{"date":"2009-03-25","program":"CPFF","amount":225},{"date":"2009-03-25","program":"TAF","amount":494},{"date":"2009-03-25","program":"TSLF","amount":100},{"date":"2009-03-25","program":"TALF","amount":2},{"date":"2009-03-25","program":"PDCF","amount":2},{"date":"2009-03-25","program":"Central bank liquidity swaps","amount":302},{"date":"2009-03-25","program":"Discount window lending","amount":77},
      {"date":"2009-04-08","program":"AMLF","amount":5},{"date":"2009-04-08","program":"CPFF","amount":217},{"date":"2009-04-08","program":"TAF","amount":500},{"date":"2009-04-08","program":"TSLF","amount":85},{"date":"2009-04-08","program":"TALF","amount":4},{"date":"2009-04-08","program":"PDCF","amount":2},{"date":"2009-04-08","program":"Central bank liquidity swaps","amount":273},{"date":"2009-04-08","program":"Discount window lending","amount":49},
      {"date":"2009-04-15","program":"AMLF","amount":5},{"date":"2009-04-15","program":"CPFF","amount":214},{"date":"2009-04-15","program":"TAF","amount":485},{"date":"2009-04-15","program":"TSLF","amount":50},{"date":"2009-04-15","program":"TALF","amount":5},{"date":"2009-04-15","program":"PDCF","amount":0},{"date":"2009-04-15","program":"Central bank liquidity swaps","amount":281},{"date":"2009-04-15","program":"Discount window lending","amount":70},
      {"date":"2009-04-22","program":"AMLF","amount":5},{"date":"2009-04-22","program":"CPFF","amount":208},{"date":"2009-04-22","program":"TAF","amount":473},{"date":"2009-04-22","program":"TSLF","amount":10},{"date":"2009-04-22","program":"TALF","amount":5},{"date":"2009-04-22","program":"PDCF","amount":0},{"date":"2009-04-22","program":"Central bank liquidity swaps","amount":240},{"date":"2009-04-22","program":"Discount window lending","amount":48},
      {"date":"2009-04-28","program":"AMLF","amount":20},{"date":"2009-04-28","program":"CPFF","amount":150},{"date":"2009-04-28","program":"TAF","amount":407},{"date":"2009-04-28","program":"TSLF","amount":10},{"date":"2009-04-28","program":"TALF","amount":5},{"date":"2009-04-28","program":"PDCF","amount":0},{"date":"2009-04-28","program":"Central bank liquidity swaps","amount":276},{"date":"2009-04-28","program":"Discount window lending","amount":73},
      {"date":"2009-05-03","program":"AMLF","amount":24},{"date":"2009-05-03","program":"CPFF","amount":165},{"date":"2009-05-03","program":"TAF","amount":424},{"date":"2009-05-03","program":"TSLF","amount":25},{"date":"2009-05-03","program":"TALF","amount":5},{"date":"2009-05-03","program":"PDCF","amount":0},{"date":"2009-05-03","program":"Central bank liquidity swaps","amount":249},{"date":"2009-05-03","program":"Discount window lending","amount":61},
      {"date":"2009-05-17","program":"AMLF","amount":24},{"date":"2009-05-17","program":"CPFF","amount":148},{"date":"2009-05-17","program":"TAF","amount":417},{"date":"2009-05-17","program":"TSLF","amount":12},{"date":"2009-05-17","program":"TALF","amount":7},{"date":"2009-05-17","program":"PDCF","amount":0},{"date":"2009-05-17","program":"Central bank liquidity swaps","amount":272},{"date":"2009-05-17","program":"Discount window lending","amount":61},
      {"date":"2009-05-20","program":"AMLF","amount":24},{"date":"2009-05-20","program":"CPFF","amount":145},{"date":"2009-05-20","program":"TAF","amount":384},{"date":"2009-05-20","program":"TSLF","amount":12},{"date":"2009-05-20","program":"TALF","amount":10},{"date":"2009-05-20","program":"PDCF","amount":0},{"date":"2009-05-20","program":"Central bank liquidity swaps","amount":184},{"date":"2009-05-20","program":"Discount window lending","amount":60},
      {"date":"2009-05-29","program":"AMLF","amount":24},{"date":"2009-05-29","program":"CPFF","amount":136},{"date":"2009-05-29","program":"TAF","amount":365},{"date":"2009-05-29","program":"TSLF","amount":10},{"date":"2009-05-29","program":"TALF","amount":12},{"date":"2009-05-29","program":"PDCF","amount":0},{"date":"2009-05-29","program":"Central bank liquidity swaps","amount":175},{"date":"2009-05-29","program":"Discount window lending","amount":73},
      {"date":"2009-06-03","program":"AMLF","amount":24},{"date":"2009-06-03","program":"CPFF","amount":130},{"date":"2009-06-03","program":"TAF","amount":362},{"date":"2009-06-03","program":"TSLF","amount":5},{"date":"2009-06-03","program":"TALF","amount":12},{"date":"2009-06-03","program":"PDCF","amount":0},{"date":"2009-06-03","program":"Central bank liquidity swaps","amount":167},{"date":"2009-06-03","program":"Discount window lending","amount":35},
      {"date":"2009-06-14","program":"AMLF","amount":22},{"date":"2009-06-14","program":"CPFF","amount":118},{"date":"2009-06-14","program":"TAF","amount":340},{"date":"2009-06-14","program":"TSLF","amount":3},{"date":"2009-06-14","program":"TALF","amount":15},{"date":"2009-06-14","program":"PDCF","amount":0},{"date":"2009-06-14","program":"Central bank liquidity swaps","amount":157},{"date":"2009-06-14","program":"Discount window lending","amount":43},
      {"date":"2009-06-18","program":"AMLF","amount":21},{"date":"2009-06-18","program":"CPFF","amount":115},{"date":"2009-06-18","program":"TAF","amount":325},{"date":"2009-06-18","program":"TSLF","amount":2},{"date":"2009-06-18","program":"TALF","amount":16},{"date":"2009-06-18","program":"PDCF","amount":0},{"date":"2009-06-18","program":"Central bank liquidity swaps","amount":85},{"date":"2009-06-18","program":"Discount window lending","amount":50},
      {"date":"2009-07-01","program":"AMLF","amount":18},{"date":"2009-07-01","program":"CPFF","amount":100},{"date":"2009-07-01","program":"TAF","amount":305},{"date":"2009-07-01","program":"TSLF","amount":1},{"date":"2009-07-01","program":"TALF","amount":18},{"date":"2009-07-01","program":"PDCF","amount":0},{"date":"2009-07-01","program":"Central bank liquidity swaps","amount":85},{"date":"2009-07-01","program":"Discount window lending","amount":40},
      {"date":"2009-07-03","program":"AMLF","amount":17},{"date":"2009-07-03","program":"CPFF","amount":93},{"date":"2009-07-03","program":"TAF","amount":290},{"date":"2009-07-03","program":"TSLF","amount":1},{"date":"2009-07-03","program":"TALF","amount":20},{"date":"2009-07-03","program":"PDCF","amount":0},{"date":"2009-07-03","program":"Central bank liquidity swaps","amount":48},{"date":"2009-07-03","program":"Discount window lending","amount":35},
      {"date":"2009-07-13","program":"AMLF","amount":15},{"date":"2009-07-13","program":"CPFF","amount":80},{"date":"2009-07-13","program":"TAF","amount":285},{"date":"2009-07-13","program":"TSLF","amount":0},{"date":"2009-07-13","program":"TALF","amount":22},{"date":"2009-07-13","program":"PDCF","amount":0},{"date":"2009-07-13","program":"Central bank liquidity swaps","amount":55},{"date":"2009-07-13","program":"Discount window lending","amount":35},
      {"date":"2009-07-17","program":"AMLF","amount":12},{"date":"2009-07-17","program":"CPFF","amount":56},{"date":"2009-07-17","program":"TAF","amount":270},{"date":"2009-07-17","program":"TSLF","amount":0},{"date":"2009-07-17","program":"TALF","amount":24},{"date":"2009-07-17","program":"PDCF","amount":0},{"date":"2009-07-17","program":"Central bank liquidity swaps","amount":47},{"date":"2009-07-17","program":"Discount window lending","amount":35},
      {"date":"2009-08-01","program":"AMLF","amount":10},{"date":"2009-08-01","program":"CPFF","amount":46},{"date":"2009-08-01","program":"TAF","amount":260},{"date":"2009-08-01","program":"TSLF","amount":0},{"date":"2009-08-01","program":"TALF","amount":25},{"date":"2009-08-01","program":"PDCF","amount":0},{"date":"2009-08-01","program":"Central bank liquidity swaps","amount":55},{"date":"2009-08-01","program":"Discount window lending","amount":36}
    ]
  },
  "vconcat": [
    {
      "width": 769,
      "height": 249,
      "title": {"text": "Nonmortgage credit factor and policy interventionsᵃ"},
      "layer": [
        {
          "data": {"name": "p1_events"},
          "mark": {"type": "rule", "color": "black", "strokeWidth": 1.4, "strokeDash": [5, 4]},
          "encoding": {
            "x": {"field": "date", "type": "temporal", "title": null,
                  "scale": {"type": "utc", "domain": [{"year": 2007, "month": 8, "date": 1, "utc": true}, {"year": 2009, "month": 8, "date": 1, "utc": true}]},
                  "axis": {"values": [{"year": 2008, "month": 1, "date": 1, "utc": true}, {"year": 2009, "month": 1, "date": 1, "utc": true}], "tickCount": 20, "format": "%Y", "labelPadding": 15, "labelOverlap": false, "title": null}},
            "y": {"field": "top", "type": "quantitative", "title": "Standard deviation from the mean",
                  "scale": {"domain": [-1, 6], "nice": false, "zero": false},
                  "axis": {"values": [0, 1, 2, 3, 4, 5], "tickCount": 20, "format": "d", "labelPadding": 16, "labelOverlap": false, "title": "Standard deviation from the mean", "titleAngle": 0, "titleAlign": "left", "titleBaseline": "alphabetic", "titleX": -58, "titleY": -16}},
            "y2": {"datum": -1}
          }
        },
        {
          "data": {"values": [{"level": 0}]},
          "mark": {"type": "rule", "color": "black", "strokeWidth": 1.5},
          "encoding": {"y": {"field": "level", "type": "quantitative", "title": "Standard deviation from the mean"}}
        },
        {
          "data": {"name": "nonmortgage"},
          "mark": {"type": "line", "color": "#798a87", "strokeWidth": 2.5, "clip": true},
          "encoding": {
            "x": {"field": "date", "type": "temporal", "title": null},
            "y": {"field": "value", "type": "quantitative", "title": "Standard deviation from the mean"}
          }
        },
        {
          "data": {"name": "p1_leader"},
          "mark": {"type": "rule", "color": "black", "strokeWidth": 1},
          "encoding": {
            "x": {"field": "date", "type": "temporal", "title": null},
            "y": {"field": "value", "type": "quantitative", "title": "Standard deviation from the mean"},
            "x2": {"field": "date2"},
            "y2": {"field": "value2"}
          }
        },
        {
          "data": {"name": "p1_big"},
          "mark": {"type": "text", "align": "left", "baseline": "alphabetic", "fontSize": 18.5, "font": "Liberation Serif", "color": "#231f20"},
          "encoding": {
            "x": {"field": "date", "type": "temporal", "title": null},
            "y": {"field": "value", "type": "quantitative", "title": "Standard deviation from the mean"},
            "text": {"field": "text"}
          }
        },
        {
          "data": {"name": "p1_small"},
          "mark": {"type": "text", "align": "left", "baseline": "alphabetic", "fontSize": 13.3, "font": "Liberation Serif", "color": "#231f20"},
          "encoding": {
            "x": {"field": "date", "type": "temporal", "title": null},
            "y": {"field": "value", "type": "quantitative", "title": "Standard deviation from the mean"},
            "text": {"field": "text"}
          }
        },
        {
          "data": {"name": "p1_italic"},
          "mark": {"type": "text", "align": "left", "baseline": "alphabetic", "fontSize": 22, "fontStyle": "italic", "font": "Liberation Serif", "color": "#231f20"},
          "encoding": {
            "x": {"field": "date", "type": "temporal", "title": null},
            "y": {"field": "value", "type": "quantitative", "title": "Standard deviation from the mean"},
            "text": {"field": "text"}
          }
        }
      ]
    },
    {
      "width": 769,
      "height": 247,
      "title": {"text": "Funding factor and policy interventionsᵇ"},
      "layer": [
        {
          "data": {"name": "p2_events"},
          "mark": {"type": "rule", "color": "black", "strokeWidth": 1.4, "strokeDash": [5, 4]},
          "encoding": {
            "x": {"field": "date", "type": "temporal", "title": null,
                  "scale": {"type": "utc", "domain": [{"year": 2007, "month": 8, "date": 1, "utc": true}, {"year": 2009, "month": 8, "date": 1, "utc": true}]},
                  "axis": {"values": [{"year": 2008, "month": 1, "date": 1, "utc": true}, {"year": 2009, "month": 1, "date": 1, "utc": true}], "tickCount": 20, "format": "%Y", "labelPadding": 15, "labelOverlap": false, "title": null}},
            "y": {"field": "top", "type": "quantitative", "title": "Standard deviation from the mean",
                  "scale": {"domain": [-1.4, 8], "nice": false, "zero": false},
                  "axis": {"values": [-1, 0, 1, 2, 3, 4, 5, 6, 7], "tickCount": 20, "format": "d", "labelPadding": 16, "labelOverlap": false, "title": "Standard deviation from the mean", "titleAngle": 0, "titleAlign": "left", "titleBaseline": "alphabetic", "titleX": -58, "titleY": -16}},
            "y2": {"datum": -1.4}
          }
        },
        {
          "data": {"values": [{"level": 0}]},
          "mark": {"type": "rule", "color": "black", "strokeWidth": 1.5},
          "encoding": {"y": {"field": "level", "type": "quantitative", "title": "Standard deviation from the mean"}}
        },
        {
          "data": {"name": "funding"},
          "mark": {"type": "line", "color": "#63b947", "strokeWidth": 2.5, "clip": true},
          "encoding": {
            "x": {"field": "date", "type": "temporal", "title": null},
            "y": {"field": "value", "type": "quantitative", "title": "Standard deviation from the mean"}
          }
        },
        {
          "data": {"name": "p2_leader"},
          "mark": {"type": "rule", "color": "black", "strokeWidth": 1},
          "encoding": {
            "x": {"field": "date", "type": "temporal", "title": null},
            "y": {"field": "value", "type": "quantitative", "title": "Standard deviation from the mean"},
            "x2": {"field": "date2"},
            "y2": {"field": "value2"}
          }
        },
        {
          "data": {"name": "p2_big"},
          "mark": {"type": "text", "align": "left", "baseline": "alphabetic", "fontSize": 18.5, "font": "Liberation Serif", "color": "#231f20"},
          "encoding": {
            "x": {"field": "date", "type": "temporal", "title": null},
            "y": {"field": "value", "type": "quantitative", "title": "Standard deviation from the mean"},
            "text": {"field": "text"}
          }
        },
        {
          "data": {"name": "p2_small"},
          "mark": {"type": "text", "align": "left", "baseline": "alphabetic", "fontSize": 13.3, "font": "Liberation Serif", "color": "#231f20"},
          "encoding": {
            "x": {"field": "date", "type": "temporal", "title": null},
            "y": {"field": "value", "type": "quantitative", "title": "Standard deviation from the mean"},
            "text": {"field": "text"}
          }
        },
        {
          "data": {"name": "p2_italic"},
          "mark": {"type": "text", "align": "left", "baseline": "alphabetic", "fontSize": 22, "fontStyle": "italic", "font": "Liberation Serif", "color": "#231f20"},
          "encoding": {
            "x": {"field": "date", "type": "temporal", "title": null},
            "y": {"field": "value", "type": "quantitative", "title": "Standard deviation from the mean"},
            "text": {"field": "text"}
          }
        }
      ]
    },
    {
      "width": 769,
      "height": 248,
      "title": {"text": "Crisis lending programs"},
      "data": {"name": "lending"},
      "transform": [
        {"lookup": "program", "from": {"data": {"name": "programs"}, "key": "program", "fields": ["rank"]}}
      ],
      "mark": {"type": "area", "stroke": "black", "strokeWidth": 1.3, "strokeJoin": "round", "clip": true},
      "encoding": {
        "x": {"field": "date", "type": "temporal", "title": null,
              "scale": {"type": "utc", "domain": [{"year": 2007, "month": 8, "date": 1, "utc": true}, {"year": 2009, "month": 8, "date": 1, "utc": true}]},
              "axis": {"values": [{"year": 2008, "month": 1, "date": 1, "utc": true}, {"year": 2009, "month": 1, "date": 1, "utc": true}], "tickCount": 20, "format": "%Y", "labelPadding": 14, "labelOverlap": false, "title": null}},
        "y": {"field": "amount", "type": "quantitative", "stack": "zero",
              "scale": {"domain": [0, 1800], "nice": false},
              "axis": {"values": [300, 600, 900, 1200, 1500], "tickCount": 20, "format": ",.0f", "labelPadding": 16, "labelOverlap": false, "title": "Amount outstanding (billions of dollars)", "titleAngle": 0, "titleAlign": "left", "titleBaseline": "alphabetic", "titleX": -58, "titleY": -16}},
        "color": {"field": "program", "type": "nominal",
                  "scale": {"domain": ["Discount window lending", "Central bank liquidity swaps", "PDCF", "TALF", "TSLF", "TAF", "CPFF", "AMLF"],
                            "range": ["#3b5ca9", "#8551a2", "#2a2b7a", "#c1272d", "#6abd45", "#858c8c", "#4a95d1", "#050505"]},
                  "legend": {"orient": "none", "legendX": 31, "legendY": 19, "title": null, "symbolType": "square", "symbolSize": 270, "symbolStrokeColor": "black", "symbolStrokeWidth": 1, "symbolOpacity": 1, "labelFont": "Liberation Serif", "labelFontSize": 22, "labelColor": "#231f20", "labelOffset": 12, "rowPadding": 4.5, "padding": 0, "labelLimit": 400}},
        "order": {"field": "rank", "type": "quantitative"}
      }
    }
  ]
}
